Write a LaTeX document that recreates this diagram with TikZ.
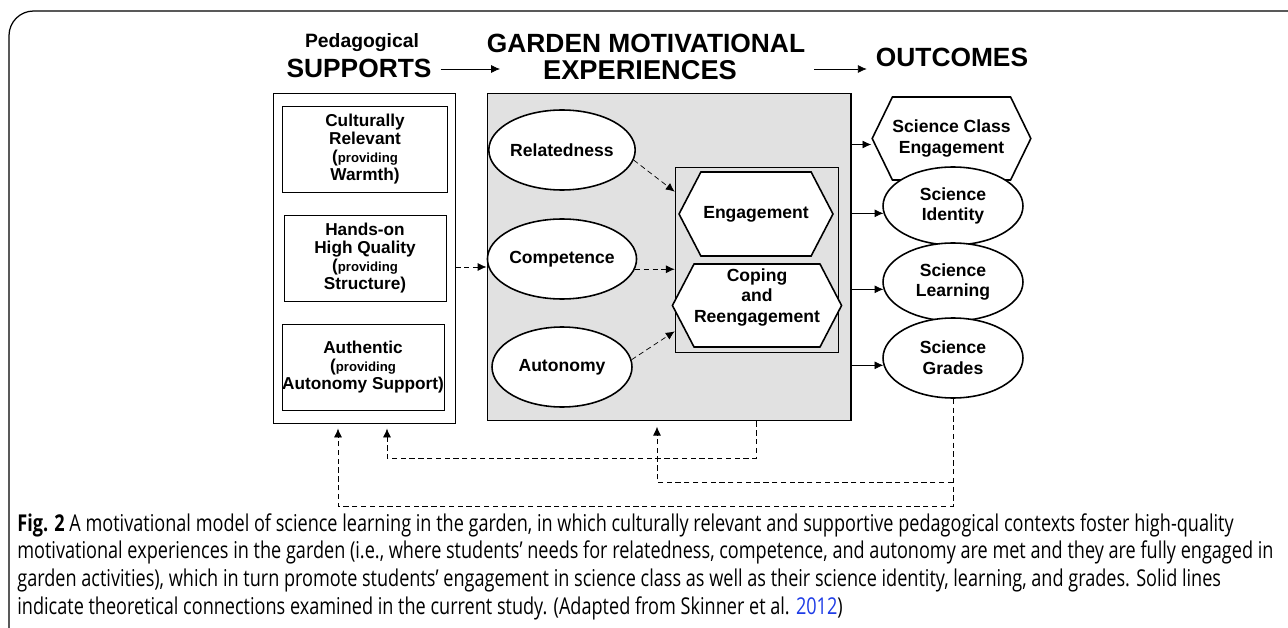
\documentclass[tikz,border=0pt]{standalone}
\usepackage{fontspec}
\setmainfont{Liberation Sans}
\newfontfamily\capfont{Open Sans}[FakeStretch=0.78]
\usepackage{tikz}
\usetikzlibrary{shapes}
\usetikzlibrary{arrows.meta}
\usepackage{xcolor}
\definecolor{gardengray}{RGB}{225,225,225}
\definecolor{refblue}{RGB}{30,60,230}
\newcommand{\prov}{({\fontsize{7.5}{8}\selectfont providing}}

\tikzset{
  headtxt/.style={inner sep=5pt, font=\bfseries\fontsize{15}{18}\selectfont},
  suppbox/.style={draw, thin, inner sep=0pt, align=center, font=\bfseries\fontsize{9.8}{10.4}\selectfont},
  needs/.style={draw, line width=.9pt, ellipse, fill=white, inner sep=0pt, minimum width=2.8cm, minimum height=1.6cm, align=center, font=\bfseries\fontsize{10}{11.8}\selectfont},
  hexa/.style={draw, line width=.9pt, signal, signal to=west and east, signal pointer angle=125, fill=white, inner sep=0pt, minimum width=3.08cm, minimum height=1.68cm, align=center, font=\bfseries\fontsize{10}{11.6}\selectfont},
  arr/.style={-{Latex[length=5pt,width=4.5pt]}, thin},
  darr/.style={arr, densely dashed}
}

\begin{document}
\begin{tikzpicture}[x=.02cm, y=-.02cm]
\useasboundingbox (0,0) rectangle (1288,628);
\draw[line width=.7pt, rounded corners=14] (9,628) -- (9,11) -- (1288,11);

% headings
\node[headtxt, font=\bfseries\fontsize{11}{13}\selectfont] (tped) at (362,43) {Pedagogical};
\node[headtxt] (tsup) at (359,68) {SUPPORTS};
\node[headtxt] (tgar) at (646,43) {GARDEN MOTIVATIONAL};
\node[headtxt, font=\bfseries\fontsize{15.5}{18}\selectfont] (texp) at (640,70) {EXPERIENCES};
\node[headtxt] (tout) at (952,57) {OUTCOMES};
\coordinate (a1) at (500,69);
\draw[arr] (tsup.east |- a1) -- (a1);
\draw[arr] (tgar.east |- a1) -- (tout.west |- a1);

% supports
\node[draw, thin, minimum width=3.64cm, minimum height=6.6cm] (supp) at (364,258) {};
\node[suppbox, minimum width=3.3cm, minimum height=1.72cm] (cult) at (365,149) {Culturally\\Relevant\\\prov\\Warmth)};
\node[suppbox, minimum width=3.24cm, minimum height=1.72cm] (hand) at (365,258) {Hands-on\\High Quality\\\prov\\Structure)};
\node[suppbox, minimum width=3.24cm, minimum height=1.72cm] (auth) at (363,367) {Authentic\\\prov\\Autonomy Support)};

% garden experiences
\node[draw, semithick, fill=gardengray, minimum width=7.28cm, minimum height=6.56cm] (gbox) at (669,257) {};
\node[needs] (rel) at (562,150) {Relatedness};
\node[needs] (com) at (562,259) {Competence};
\node[needs] (aut) at (562,367) {Autonomy};
\node[draw, thin, fill=gardengray, minimum width=3.26cm, minimum height=3.7cm] (ibox) at (756.5,259.5) {};
\node[hexa] (eng) at (756,214) {Engagement};
\node[hexa, minimum height=1.66cm] (cop) at (757,305.5) {Coping\\and\\Reengagement\\\mbox{}};

% outcomes
\node[hexa, minimum width=3.06cm, minimum height=1.66cm, signal pointer angle=128] (sce) at (951.5,138.5) {Science Class\\Engagement};
\node[needs, minimum height=1.56cm] (ident) at (953,206) {Science\\Identity};
\node[needs, minimum height=1.56cm] (learn) at (953,282) {Science\\Learning};
\node[needs] (grad) at (953,358) {Science\\Grades};

\draw[darr] ([yshift=-.18cm]supp.east) -- ([yshift=-.18cm]supp.east -| gbox.west);
\draw[darr] (rel.-8) -- ([yshift=-.5cm]ibox.north west);
\draw[darr] (com.-8) -- (com.-8 -| ibox.west);
\draw[darr] (aut.6) -- ([yshift=.42cm]ibox.south west);

\draw[arr] ([yshift=-.12cm]gbox.east |- sce.west) -- ([yshift=-.12cm]sce.west);
\draw[arr] (gbox.east |- ident.186) -- (ident.186);
\draw[arr] (gbox.east |- learn.186) -- (learn.186);
\draw[arr] (gbox.east |- grad.186) -- (grad.186);

% feedback
\coordinate (fb1) at (756,458);
\coordinate (fb2) at (387,458);
\coordinate (fb3) at (953,482);
\coordinate (fb4) at (657,482);
\coordinate (fb5) at (953,506);
\coordinate (fb6) at (338,506);
\draw[darr, shorten >=3pt] (gbox.south -| fb1) -- (fb1) -- (fb2) -- (fb2 |- supp.south);
\draw[darr, shorten >=3pt] (grad.south) -- (fb5) -- (fb6) -- (fb6 |- supp.south);
\draw[darr, shorten >=3pt] (fb3) -- (fb4) -- (fb4 |- gbox.south);

% caption
\node[anchor=north west, align=left, inner sep=0pt, font=\capfont\fontsize{13.2}{15.8}\selectfont] (cap) at (17,513)
{\textbf{Fig. 2} A motivational model of science learning in the garden, in which culturally relevant and supportive pedagogical contexts foster high-quality\\
motivational experiences in the garden (i.e., where students’ needs for relatedness, competence, and autonomy are met and they are fully engaged in\\
garden activities), which in turn promote students’ engagement in science class as well as their science identity, learning, and grades. Solid lines\\
indicate theoretical connections examined in the current study. (Adapted from Skinner et al. {\color{refblue}2012})};
\end{tikzpicture}
\end{document}
